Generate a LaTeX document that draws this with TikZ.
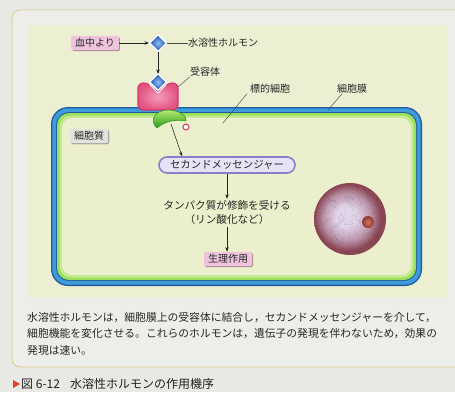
\documentclass[tikz,border=0pt]{standalone}
\usepackage{fontspec}
\setmainfont{Noto Sans CJK JP}
\usetikzlibrary{shapes.geometric,arrows.meta}

\definecolor{pagebg}{HTML}{E8E8E5}
\definecolor{boxbg}{HTML}{EDEDEA}
\definecolor{boxline}{HTML}{D8CC8C}
\definecolor{panel}{HTML}{EDEFD3}
\definecolor{memdark}{HTML}{1F5C9E}
\definecolor{memblue}{HTML}{3F9CDC}
\definecolor{glowA}{HTML}{9AE05A}
\definecolor{glowB}{HTML}{C6EA94}
\definecolor{cellin}{HTML}{ECEFCB}
\definecolor{ink}{HTML}{262626}
\definecolor{pinkbox}{HTML}{EEC4DC}
\definecolor{pinkshadow}{HTML}{B48898}
\definecolor{graybox}{HTML}{E3E3DE}
\definecolor{grayshadow}{HTML}{A4A49E}
\definecolor{recdark}{HTML}{D4386A}
\definecolor{recmid}{HTML}{E25482}
\definecolor{reclight}{HTML}{F49CBC}
\definecolor{hormdark}{HTML}{1E48A8}
\definecolor{hormlight}{HTML}{8CC4F4}
\definecolor{gdark}{HTML}{2C9A1C}
\definecolor{glight}{HTML}{B8EE74}
\definecolor{pillfill}{HTML}{E8E2F6}
\definecolor{pillline}{HTML}{8C7DCB}
\definecolor{nucin}{HTML}{E2D6EA}
\definecolor{nucmid}{HTML}{BE98AE}
\definecolor{nucout}{HTML}{8A4654}
\definecolor{chrom}{HTML}{44446E}
\definecolor{olin}{HTML}{D47260}
\definecolor{olout}{HTML}{8E3A34}
\definecolor{capred}{HTML}{E0402C}

% nucleus body: light centre, reddish rim
\pgfdeclareradialshading{nucleusshade}{\pgfpoint{-3bp}{2bp}}{%
  color(0bp)=(nucin); color(7bp)=(nucin); color(16bp)=(nucmid);
  color(23bp)=(nucout); color(25bp)=(nucout); color(50bp)=(nucout)}

\tikzset{
  lbl/.style={font=\fontsize{10}{12}\selectfont, text=ink, inner sep=0pt},
  tagbox/.style={font=\fontsize{10}{12}\selectfont, text=ink, fill=pinkbox,
    rounded corners=2, inner xsep=4pt, inner ysep=2.5pt,
    preaction={fill=pinkshadow, transform canvas={xshift=1pt, yshift=-1pt}}},
  graytag/.style={tagbox, fill=graybox,
    preaction={fill=grayshadow, transform canvas={xshift=1pt, yshift=-1pt}}},
  flow/.style={-{Stealth[length=4.5pt,width=3.5pt]}, draw=ink, line width=0.55pt},
  leader/.style={draw=ink!85, line width=0.45pt},
  hormone/.style={diamond, minimum width=17pt, minimum height=17pt, inner sep=0pt,
    draw=white, line width=1.1pt, inner color=hormlight, outer color=hormdark},
  body/.style={font=\fontsize{10.8}{13}\selectfont, text=ink, inner sep=0pt, anchor=west}
}

\begin{document}
\begin{tikzpicture}[x=1pt,y=-1pt]
\useasboundingbox (0,0) rectangle (455,392);
\clip (0,0) rectangle (455,392);
\fill[pagebg] (0,0) rectangle (455,392);

% framed figure area
\draw[boxline, line width=0.8pt, fill=boxbg, rounded corners=8] (12,10) rectangle (480,367);
\fill[panel] (28,25) rectangle (448,297);

% target cell with membrane
\fill[memdark, rounded corners=17] (51,107) rectangle (422,286);
\fill[memblue, rounded corners=16] (52.3,108.3) rectangle (420.7,284.7);
\fill[memdark, rounded corners=13] (56,112) rectangle (417,281);
\fill[glowA, rounded corners=12] (57,113) rectangle (416,280);
\fill[glowB, rounded corners=11] (59.5,115.5) rectangle (413.5,277.5);
\fill[cellin, rounded corners=10] (62,118) rectangle (411,275);

% nucleus
\shade[shading=nucleusshade] (350,219) circle (36);
\begin{scope}
  \clip (350,219) circle (34);
  \pgfmathsetseed{11}
  \foreach \i in {1,...,100}{
    \pgfmathsetmacro\ax{350+66*rnd-33}
    \pgfmathsetmacro\ay{219+66*rnd-33}
    \draw[chrom, opacity=0.6, line width=0.3pt, densely dotted]
      (\ax,\ay) -- ++(rand*7,rand*7) -- ++(rand*7,rand*7);
  }
\end{scope}
\shade[inner color=olin, outer color=olout] (368,222) circle (6);

% receptor in the membrane
\path[rounded corners=5, draw=recdark, line width=1.3pt, inner color=reclight, outer color=recmid]
  (158,93) -- (148,83) -- (138,83) -- (138,110) -- (178,110) -- (178,83) -- (168,83) -- cycle;
\draw[white, line width=1pt] (149.5,84.5) -- (158,93) -- (166.5,84.5);

% G protein and its subunit
\path[draw=gdark, line width=0.6pt, top color=glight, bottom color=gdark]
  (157,128) .. controls (148,120) and (156,109) .. (170,110)
  .. controls (180,111) and (187,116) .. (186,121)
  .. controls (176,119) and (165,121) .. (157,128) -- cycle;
\node[circle, draw=recdark, line width=1pt, fill=white, minimum size=6pt, inner sep=0pt] (sub) at (186,127) {};

% hormone molecules
\node[hormone] (h1) at (158,43) {};
\node[hormone] (h2) at (158,82) {};
\coordinate (gp) at (171,124);

% labels
\node[tagbox] (blood) at (95,43) {血中より};
\node[lbl, anchor=west] (hl) at (188,43) {水溶性ホルモン};
\node[lbl] (rl) at (205,72) {受容体};
\node[lbl] (tl) at (270,89) {標的細胞};
\node[lbl] (ml) at (352,89) {細胞膜};
\node[graytag] (cyto) at (89,136) {細胞質};
\node[font=\fontsize{10.4}{12}\selectfont, text=ink, draw=pillline, line width=1.6pt,
  fill=pillfill, rounded corners=8, minimum width=136pt, minimum height=16pt, inner sep=0pt]
  (sm) at (227,165) {セカンドメッセンジャー};
\node[font=\fontsize{10.6}{14}\selectfont, text=ink, align=center, inner sep=0pt]
  (prot) at (227,213) {タンパク質が修飾を受ける\\（リン酸化など）};
\node[tagbox] (eff) at (228,259) {生理作用};

% connectors
\draw[flow] (blood.east) -- (h1.west);
\draw[leader] (h1.east) -- (hl.west);
\draw[flow] (h1.south) -- ([yshift=-1pt]h2.north);
\coordinate (rc) at (178,87);
\draw[leader] (rc) -- (rl.south west);
\coordinate (tc) at (223,123);
\draw[leader] (tc) -- ([xshift=-3pt]tl.south west);
\coordinate (mc) at (328,110);
\draw[leader] (mc) -- ([xshift=-10pt]ml.south);
\draw[flow] (gp) -- (sm.north west -| 182,0);
\draw[flow] (sm.south) -- ([yshift=2pt]prot.north);
\draw[flow] ([yshift=-2pt]prot.south) -- (eff.north -| sm.south);

% explanatory text
\node[body] (t1) at (27,318) {水溶性ホルモンは，細胞膜上の受容体に結合し，セカンドメッセンジャーを介して，};
\node[body] (t2) at (27,334) {細胞機能を変化させる。これらのホルモンは，遺伝子の発現を伴わないため，効果の};
\node[body] (t3) at (27,350) {発現は速い。};

% figure caption
\fill[capred] (13,380) -- (20,384) -- (13,388) -- cycle;
\node[font=\fontsize{12}{14}\selectfont, text=ink!90!black, anchor=west, inner sep=0pt]
  (cap) at (21,384) {図 6-12\hspace{10pt}水溶性ホルモンの作用機序};
\end{tikzpicture}
\end{document}
